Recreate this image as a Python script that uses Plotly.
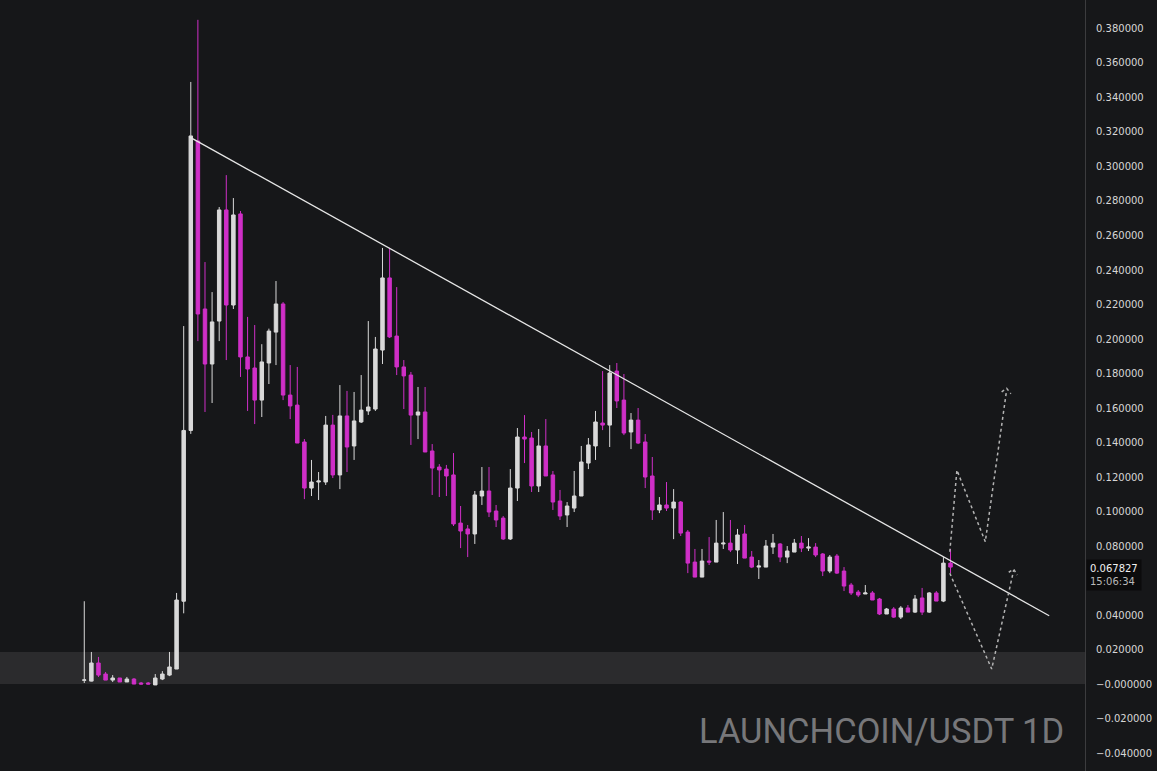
import plotly.graph_objects as go

# ---- daily candles (LAUNCHCOIN/USDT 1D) ----
opens = [
    0.0022, 0.0017, 0.0122, 0.0058, 0.0023, 0.0035, 0.0012, 0.0029, 0.0006, 0.0006,
    -0.0005, 0.0029, 0.0052, 0.0087, 0.0480, 0.1470, 0.3148, 0.2174, 0.1855, 0.2104,
    0.2748, 0.2197, 0.2725, 0.1896, 0.1832, 0.1646, 0.1861, 0.2040, 0.2203, 0.1675,
    0.1617, 0.1403, 0.1136, 0.1171, 0.1171, 0.1501, 0.1212, 0.1554, 0.1380, 0.1519,
    0.1583, 0.1594, 0.1936, 0.2354, 0.2017, 0.1838, 0.1791, 0.1559, 0.1577, 0.1351,
    0.1258, 0.1246, 0.1212, 0.0933, 0.0899, 0.0870, 0.1090, 0.1119, 0.1003, 0.0962,
    0.0841, 0.1136, 0.1432, 0.1426, 0.1148, 0.1380, 0.1212, 0.1061, 0.0980, 0.1020,
    0.1090, 0.1281, 0.1380, 0.1513, 0.1501, 0.1814, 0.1646, 0.1461, 0.1530, 0.1403,
    0.1206, 0.1009, 0.1038, 0.1020, 0.1055, 0.0881, 0.0707, 0.0620, 0.0713, 0.0707,
    0.0812, 0.0817, 0.0777, 0.0870, 0.0736, 0.0678, 0.0678, 0.0794, 0.0812, 0.0736,
    0.0765, 0.0817, 0.0788, 0.0794, 0.0754, 0.0655, 0.0742, 0.0655, 0.0574, 0.0533,
    0.0522, 0.0528, 0.0493, 0.0406, 0.0435, 0.0388, 0.0441, 0.0417, 0.0499, 0.0417,
    0.0528, 0.0481, 0.0701,
]
highs = [
    0.0480, 0.0186, 0.0157, 0.0070, 0.0052, 0.0035, 0.0041, 0.0035, 0.0012, 0.0012,
    0.0058, 0.0075, 0.0186, 0.0528, 0.2075, 0.3490, 0.3850, 0.2446, 0.2272, 0.2765,
    0.2950, 0.2817, 0.2742, 0.2128, 0.2081, 0.1970, 0.2060, 0.2336, 0.2214, 0.1849,
    0.1838, 0.1420, 0.1299, 0.1229, 0.1554, 0.1560, 0.1733, 0.1699, 0.1693, 0.1791,
    0.2104, 0.2012, 0.2528, 0.2528, 0.2301, 0.1878, 0.1809, 0.1722, 0.1722, 0.1391,
    0.1275, 0.1270, 0.1339, 0.1032, 0.0922, 0.1119, 0.1258, 0.1258, 0.1038, 0.0974,
    0.1246, 0.1484, 0.1559, 0.1461, 0.1478, 0.1536, 0.1235, 0.1125, 0.1055, 0.1235,
    0.1380, 0.1426, 0.1583, 0.1814, 0.1849, 0.1861, 0.1797, 0.1571, 0.1600, 0.1449,
    0.1316, 0.1084, 0.1171, 0.1130, 0.1061, 0.0893, 0.0783, 0.0783, 0.0852, 0.0951,
    0.0997, 0.0951, 0.0899, 0.0922, 0.0771, 0.0719, 0.0835, 0.0870, 0.0817, 0.0800,
    0.0841, 0.0858, 0.0846, 0.0817, 0.0759, 0.0748, 0.0754, 0.0678, 0.0586, 0.0545,
    0.0574, 0.0539, 0.0499, 0.0441, 0.0446, 0.0452, 0.0458, 0.0516, 0.0557, 0.0533,
    0.0539, 0.0736, 0.0783,
]
lows = [
    0.0006, 0.0015, 0.0041, 0.0023, 0.0012, 0.0012, 0.0012, 0.0000, -0.0002, -0.0002,
    -0.0006, 0.0023, 0.0046, 0.0087, 0.0410, 0.1450, 0.1988, 0.1577, 0.1629, 0.1988,
    0.1878, 0.2174, 0.1780, 0.1583, 0.1507, 0.1548, 0.1739, 0.1849, 0.1646, 0.1536,
    0.1397, 0.1072, 0.1090, 0.1067, 0.1154, 0.1194, 0.1130, 0.1229, 0.1299, 0.1513,
    0.1560, 0.1583, 0.1855, 0.2006, 0.1791, 0.1594, 0.1386, 0.1420, 0.1345, 0.1096,
    0.1084, 0.1090, 0.0916, 0.0788, 0.0736, 0.0812, 0.1038, 0.0968, 0.0910, 0.0835,
    0.0835, 0.1061, 0.1281, 0.1113, 0.1113, 0.1206, 0.1009, 0.0951, 0.0910, 0.0997,
    0.1090, 0.1246, 0.1299, 0.1472, 0.1374, 0.1600, 0.1443, 0.1362, 0.1391, 0.1136,
    0.0951, 0.0991, 0.1003, 0.0840, 0.0858, 0.0643, 0.0620, 0.0620, 0.0690, 0.0707,
    0.0783, 0.0765, 0.0696, 0.0730, 0.0672, 0.0609, 0.0678, 0.0754, 0.0707, 0.0701,
    0.0765, 0.0765, 0.0771, 0.0736, 0.0626, 0.0643, 0.0638, 0.0539, 0.0516, 0.0504,
    0.0522, 0.0487, 0.0400, 0.0406, 0.0383, 0.0377, 0.0417, 0.0412, 0.0400, 0.0412,
    0.0481, 0.0475, 0.0643,
]
closes = [
    0.0024, 0.0122, 0.0052, 0.0023, 0.0035, 0.0012, 0.0029, 0.0000, 0.0000, 0.0000,
    0.0035, 0.0058, 0.0099, 0.0487, 0.1470, 0.3177, 0.2145, 0.1855, 0.2099, 0.2748,
    0.2197, 0.2719, 0.1896, 0.1826, 0.1646, 0.1867, 0.2046, 0.2203, 0.1675, 0.1612,
    0.1397, 0.1136, 0.1171, 0.1177, 0.1501, 0.1212, 0.1554, 0.1374, 0.1525, 0.1588,
    0.1606, 0.1942, 0.2354, 0.2012, 0.1838, 0.1786, 0.1559, 0.1577, 0.1345, 0.1252,
    0.1241, 0.1206, 0.0928, 0.0887, 0.0870, 0.1096, 0.1119, 0.0997, 0.0951, 0.0841,
    0.1136, 0.1432, 0.1420, 0.1148, 0.1380, 0.1206, 0.1055, 0.0974, 0.1032, 0.1090,
    0.1287, 0.1386, 0.1519, 0.1501, 0.1803, 0.1641, 0.1455, 0.1530, 0.1397, 0.1200,
    0.1009, 0.1038, 0.1020, 0.1055, 0.0875, 0.0701, 0.0620, 0.0713, 0.0707, 0.0817,
    0.0817, 0.0777, 0.0864, 0.0730, 0.0678, 0.0684, 0.0800, 0.0817, 0.0736, 0.0771,
    0.0817, 0.0788, 0.0794, 0.0748, 0.0655, 0.0736, 0.0643, 0.0568, 0.0528, 0.0516,
    0.0528, 0.0487, 0.0406, 0.0435, 0.0388, 0.0441, 0.0417, 0.0493, 0.0417, 0.0528,
    0.0481, 0.0701, 0.0678,
]
bars = list(range(len(closes)))

last_price = "0.067827"
countdown = "15:06:34"

# ---- drawings (bar index, price) ----
trend_x = [14.8, 135.9]
trend_y = [0.3172, 0.0396]
path_up_x = [121.9, 122.9, 126.9, 129.9]
path_up_y = [0.0767, 0.1240, 0.0825, 0.1704]
head_up_x = [129.2, 129.9, 130.5]
head_up_y = [0.1694, 0.1714, 0.1683]
path_dn_x = [121.9, 127.8, 130.9]
path_dn_y = [0.0642, 0.0087, 0.0661]
head_dn_x = [130.2, 130.9, 131.4]
head_dn_y = [0.0648, 0.0665, 0.0632]
zone = (0.0, 0.0186)

ticks = [0.38, 0.36, 0.34, 0.32, 0.30, 0.28, 0.26, 0.24, 0.22, 0.20, 0.18, 0.16,
         0.14, 0.12, 0.10, 0.08, 0.04, 0.02, 0.0, -0.02, -0.04]
ticktext = [("\u2212" + f"{abs(t):.6f}") if t <= 0 else f"{t:.6f}" for t in ticks]

BG = "#161719"
UP = "#d9d9d9"
DOWN = "#cf2fc7"
DRAW = "#b4b4b4"

fig = go.Figure()

# support zone
fig.add_shape(type="rect", xref="paper", yref="y", x0=0, x1=1, y0=zone[0], y1=zone[1],
              fillcolor="#2b2b2d", line_width=0, layer="below")

fig.add_trace(go.Candlestick(
    x=bars, open=opens, high=highs, low=lows, close=closes,
    increasing=dict(line=dict(color=UP, width=1), fillcolor=UP),
    decreasing=dict(line=dict(color=DOWN, width=1), fillcolor=DOWN),
    whiskerwidth=0, hoverinfo="skip", showlegend=False))

fig.add_trace(go.Scatter(x=trend_x, y=trend_y, mode="lines",
                         line=dict(color="#e6e6e6", width=1.3), showlegend=False, hoverinfo="skip"))
for xs, ys in [(path_up_x, path_up_y), (head_up_x, head_up_y),
               (path_dn_x, path_dn_y), (head_dn_x, head_dn_y)]:
    fig.add_trace(go.Scatter(x=xs, y=ys, mode="lines",
                             line=dict(color=DRAW, width=1.5, dash="dot"),
                             showlegend=False, hoverinfo="skip"))

# watermark
fig.add_annotation(text="LAUNCHCOIN/USDT 1D", xref="paper", yref="paper",
                   x=0.9797, y=0.052, xanchor="right", yanchor="middle", showarrow=False,
                   xshift=3, font=dict(family="Roboto", size=34.5, color="#77777a"))

# last price label
fig.add_annotation(
    text=f"{last_price}<br><span style='color:#b8b8b8'>{countdown}</span>",
    xref="paper", yref="y", x=1.0, y=closes[-1], xanchor="left", yanchor="middle",
    yshift=-8, xshift=1, showarrow=False, align="left", bgcolor="#0b0b0c", borderpad=3,
    font=dict(family="DejaVu Sans", size=10, color="#f0f0f0"))

fig.update_layout(
    width=1157, height=771,
    margin=dict(l=0, r=72, t=0, b=0),
    paper_bgcolor=BG, plot_bgcolor=BG,
    showlegend=False,
    xaxis=dict(range=[-11.87, 140.94], visible=False, rangeslider=dict(visible=False),
               showgrid=False, zeroline=False),
    yaxis=dict(range=[-0.0504, 0.3965], side="right", showgrid=False, zeroline=False,
               tickvals=ticks, ticktext=ticktext, ticks="", ticklabelstandoff=8,
               showline=True, linecolor="#3c3c3e", linewidth=1,
               tickfont=dict(family="DejaVu Sans", size=10, color="#d6d6d6")),
)

fig.write_html("out.html", config={"displayModeBar": False},
               post_script="document.body.style.margin='0px';")
